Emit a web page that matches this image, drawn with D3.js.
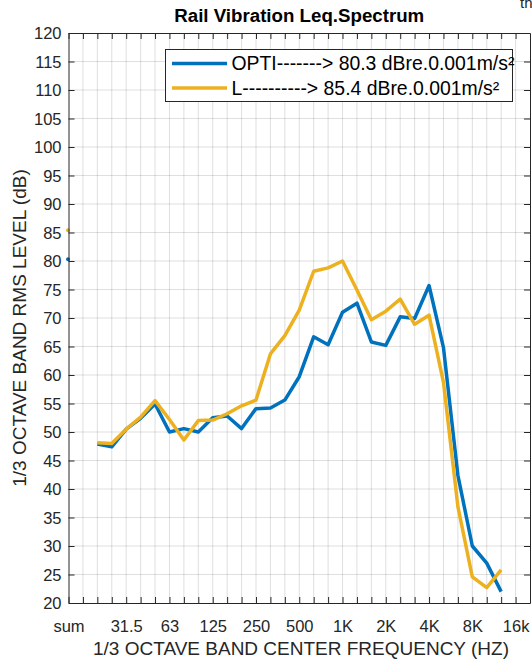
<!DOCTYPE html>
<html>
<head>
<meta charset="utf-8">
<script src="https://cdn.jsdelivr.net/npm/d3@7"></script>
<style>
body { margin: 0; background: #fff; }
text { font-family: "Liberation Sans", Arial, sans-serif; }
</style>
</head>
<body>
<div class="holder"></div>
<script>
// 1/3 octave bands, index 0 is the overall "sum" value
var bands = ['sum','16','20','25','31.5','40','50','63','80','100','125','160','200','250','315','400',
  '500','630','800','1K','1.25K','1.6K','2K','2.5K','3.15K','4K','5K','6.3K','8K','10K','12.5K','16k']

var tickIdx  = [0, 4, 7, 10, 13, 16, 19, 22, 25, 28, 31]
var tickText = ['sum','31.5','63','125','250','500','1K','2K','4K','8K','16k']

var optiVals = [80.3, null, 47.9, 47.4, 50.5, 52.4, 54.9, 50.0, 50.6, 50.0, 52.5, 52.8, 50.6, 54.1, 54.2, 55.6,
  59.7, 66.7, 65.3, 71.0, 72.6, 65.8, 65.2, 70.2, 69.9, 75.7, 64.8, 42.4, 30.0, 27.0, 22.0, null]
var lVals    = [85.4, null, 48.1, 48.0, 50.5, 52.6, 55.5, 52.2, 48.6, 52.0, 52.1, 53.2, 54.6, 55.6, 63.7, 66.9,
  71.4, 78.2, 78.8, 80.0, 74.9, 69.7, 71.2, 73.3, 68.9, 70.5, 58.7, 36.9, 24.6, 22.7, 25.8, null]

var seriesNames = ['OPTI-------> 80.3 dBre.0.001m/s\u00b2', 'L----------> 85.4 dBre.0.001m/s\u00b2']
var seriesColors = ['#0072BD', '#EDB120']

var yMin = 20, yMax = 120, yStep = 5

var plotLeft = 68.5, plotRight = 530, plotTop = 33, plotBottom = 603
var axisColor = '#262626'

var svg = d3.select('.holder')
  .append('svg')
  .attr('width', 532)
  .attr('height', 664)

var xScale = d3.scaleLinear()
  .domain([0, 32])
  .range([plotLeft, plotRight])

var yScale = d3.scaleLinear()
  .domain([yMin, yMax])
  .range([plotBottom, plotTop])

var yTicks = d3.range(yMin, yMax + 1, yStep)
var xTicks = d3.range(0, 32)

// grid
var grid = svg.append('g')
grid.selectAll('.vg')
  .data(xTicks.slice(1))
  .enter().append('line')
  .attr('x1', function(d){ return xScale(d) })
  .attr('x2', function(d){ return xScale(d) })
  .attr('y1', plotTop).attr('y2', plotBottom)
  .attr('stroke', axisColor).attr('stroke-opacity', 0.15).attr('stroke-width', 1)
grid.selectAll('.hg')
  .data(yTicks.slice(1, -1))
  .enter().append('line')
  .attr('y1', function(d){ return yScale(d) })
  .attr('y2', function(d){ return yScale(d) })
  .attr('x1', plotLeft).attr('x2', plotRight)
  .attr('stroke', axisColor).attr('stroke-opacity', 0.15).attr('stroke-width', 1)

// sum dots sit on the y axis
svg.selectAll('.sumdot')
  .data([optiVals, lVals])
  .enter().append('circle')
  .attr('cx', xScale(0) - 0.5)
  .attr('cy', function(d){ return yScale(d[0]) })
  .attr('r', 2)
  .attr('fill', function(d, i){ return seriesColors[i] })

// axes
var xAxis = d3.axisBottom(xScale)
  .tickValues(xTicks)
  .tickSizeInner(-6).tickSizeOuter(0)
  .tickFormat(function(d){ var k = tickIdx.indexOf(d); return k < 0 ? '' : tickText[k] })

var gx = svg.append('g')
  .attr('transform', 'translate(0,' + plotBottom + ')')
  .call(xAxis)
gx.selectAll('text').attr('y', 29).attr('dy', 0).style('font-size', '16.5px').attr('fill', axisColor)

var gxTop = svg.append('g')
  .attr('transform', 'translate(0,' + plotTop + ')')
  .call(d3.axisTop(xScale).tickValues(xTicks).tickSizeInner(-6).tickSizeOuter(0).tickFormat(''))

var gy = svg.append('g')
  .attr('transform', 'translate(' + plotLeft + ',0)')
  .call(d3.axisLeft(yScale).tickValues(yTicks).tickSizeInner(-6).tickSizeOuter(0))
gy.selectAll('text').attr('x', -7).attr('dy', '0.36em').style('font-size', '16.5px').attr('fill', axisColor)

var gyRight = svg.append('g')
  .attr('transform', 'translate(' + plotRight + ',0)')
  .call(d3.axisRight(yScale).tickValues(yTicks).tickSizeInner(-6).tickSizeOuter(0).tickFormat(''))

svg.selectAll('.domain').attr('stroke', axisColor)
svg.selectAll('.tick line').attr('stroke', axisColor)

// series lines
var line = d3.line()
  .defined(function(d, i){ return i >= 2 && d != null })
  .x(function(d, i){ return xScale(i) })
  .y(function(d){ return yScale(d) })

svg.selectAll('.series')
  .data([optiVals, lVals])
  .enter().append('path')
  .attr('d', line)
  .attr('fill', 'none')
  .attr('stroke', function(d, i){ return seriesColors[i] })
  .attr('stroke-width', 3.5)
  .attr('stroke-linejoin', 'round')

// labels
svg.append('text')
  .attr('x', (plotLeft + plotRight) / 2).attr('y', 22)
  .attr('text-anchor', 'middle')
  .style('font-size', '18.7px').style('font-weight', 'bold')
  .attr('fill', '#000')
  .text('Rail Vibration Leq.Spectrum')

svg.append('text')
  .attr('x', 301).attr('y', 655)
  .attr('text-anchor', 'middle')
  .style('font-size', '19px')
  .attr('fill', axisColor)
  .text('1/3 OCTAVE BAND CENTER FREQUENCY (HZ)')

svg.append('text')
  .attr('transform', 'translate(26,' + 328 + ') rotate(-90)')
  .attr('text-anchor', 'middle')
  .style('font-size', '19px')
  .attr('fill', axisColor)
  .text('1/3 OCTAVE BAND RMS LEVEL (dB)')

svg.append('text')
  .attr('x', 520).attr('y', 8)
  .style('font-size', '15px')
  .attr('fill', axisColor)
  .text('th')

// legend
var legend = svg.append('g').attr('id', 'legend')
legend.append('rect')
  .attr('x', 165.5).attr('y', 49.5)
  .attr('width', 347).attr('height', 52)
  .attr('fill', '#fff').attr('stroke', axisColor).attr('stroke-width', 1)

var rows = legend.selectAll('.row')
  .data(seriesNames)
  .enter().append('g')
  .attr('transform', function(d, i){ return 'translate(0,' + (63.5 + i * 24.5) + ')' })
rows.append('line')
  .attr('x1', 172).attr('x2', 227)
  .attr('stroke', function(d, i){ return seriesColors[i] })
  .attr('stroke-width', 3.5)
rows.append('text')
  .attr('x', 231.5).attr('dy', '0.35em')
  .style('font-size', '19.4px')
  .attr('fill', '#000')
  .text(function(d){ return d })
</script>
</body>
</html>
